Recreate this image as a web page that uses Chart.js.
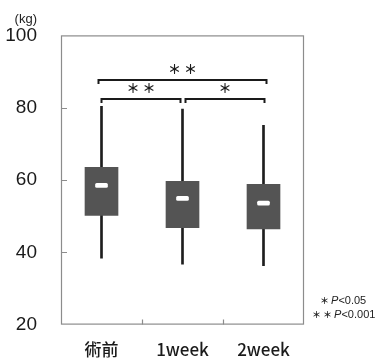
<!DOCTYPE html>
<html><head><meta charset="utf-8">
<script src="https://cdn.jsdelivr.net/npm/chart.js@4/dist/chart.umd.min.js"></script>
<style>html,body{margin:0;padding:0;background:#fff}#wrap{width:388px;height:360px}</style>
</head><body><div id="wrap"><canvas id="c" width="388" height="360"></canvas></div>
<script>
const categories = ['術前', '1week', '2week'];
const whiskerLow = [38.4, 36.7, 36.3];
const q1 = [50.2, 46.8, 46.5];
const medians = [58.5, 54.9, 53.6];
const q3 = [63.5, 59.6, 58.8];
const whiskerHigh = [80.4, 79.6, 75.1];
const yMin = 20, yMax = 100, yStep = 20;
const yUnit = '(kg)';
const bracketFrom = [0, 0, 1];
const bracketTo = [2, 1, 2];
const bracketLevel = [87.7, 82.5, 82.5];
const bracketMarks = ['＊ ＊', '＊ ＊', '＊'];
const noteMarks = ['＊ ', '＊ ＊ '];
const notePrefix = ['P', 'P'];
const noteValues = ['<0.05', '<0.001'];

const FONT = '"Liberation Sans", Arial, "Noto Sans CJK JP", sans-serif';
const CJK = '"Noto Sans CJK JP", "Liberation Sans", sans-serif';

const decor = {
  id: 'decor',
  afterDatasetsDraw(chart) {
    const ctx = chart.ctx, a = chart.chartArea;
    const xs = chart.scales.x, ys = chart.scales.y;
    ctx.save();
    // frame
    ctx.strokeStyle = '#8c8c8c'; ctx.lineWidth = 1.2;
    ctx.strokeRect(a.left + 0.5, a.top + 0.5, a.right - a.left - 1, a.bottom - a.top - 1);
    // inward y ticks
    ctx.beginPath();
    for (let v = yMin + yStep; v < yMax; v += yStep) {
      const y = Math.round(ys.getPixelForValue(v)) + 0.5;
      ctx.moveTo(a.left, y); ctx.lineTo(a.left + 6, y);
    }
    // x ticks between categories
    for (let i = 0; i < categories.length - 1; i++) {
      const x = Math.round((xs.getPixelForValue(i) + xs.getPixelForValue(i + 1)) / 2) + 0.5;
      ctx.moveTo(x, a.bottom); ctx.lineTo(x, a.bottom - 5);
    }
    ctx.stroke();
    // brackets
    ctx.strokeStyle = '#1a1a1a'; ctx.lineWidth = 2; ctx.fillStyle = '#1a1a1a';
    const last = categories.length - 1;
    for (let k = 0; k < bracketFrom.length; k++) {
      const span = bracketTo[k] - bracketFrom[k];
      let x1 = xs.getPixelForValue(bracketFrom[k]);
      let x2 = xs.getPixelForValue(bracketTo[k]);
      if (span > 1) { x1 -= 3; x2 += 3; }
      else { if (bracketFrom[k] > 0) x1 += 3; if (bracketTo[k] < last) x2 -= 2; else x2 += 1; }
      const y = Math.round(ys.getPixelForValue(bracketLevel[k]));
      ctx.beginPath();
      ctx.moveTo(x1, y + 4); ctx.lineTo(x1, y); ctx.lineTo(x2, y); ctx.lineTo(x2, y + 4);
      ctx.stroke();
      ctx.font = 'bold 13px ' + CJK;
      ctx.textAlign = 'center'; ctx.textBaseline = 'middle';
      ctx.fillText(bracketMarks[k], (x1 + x2) / 2, y - 11);
    }
    // unit label
    ctx.fillStyle = '#222';
    ctx.font = '13px ' + FONT;
    ctx.textAlign = 'right'; ctx.textBaseline = 'middle';
    ctx.fillText(yUnit, a.left - 24, a.top - 16);
    // note
    ctx.textAlign = 'left';
    const noteX = [320, 312];
    for (let i = 0; i < noteMarks.length; i++) {
      const y = a.bottom - 24 + i * 14;
      let x = noteX[i];
      ctx.font = 'bold 9px ' + CJK;
      ctx.fillText(noteMarks[i], x, y); x += ctx.measureText(noteMarks[i]).width;
      ctx.font = 'italic 11px ' + FONT;
      ctx.fillText(notePrefix[i], x, y); x += ctx.measureText(notePrefix[i]).width;
      ctx.font = '11px ' + FONT;
      ctx.fillText(noteValues[i], x, y);
    }
    ctx.restore();
  }
};

new Chart(document.getElementById('c'), {
  type: 'bar',
  data: {
    labels: categories,
    datasets: [
      { label: 'median', data: medians.map(m => [m - 0.55, m + 0.55]), backgroundColor: '#ffffff',
        barThickness: 12, grouped: false, borderRadius: 1.5, borderSkipped: false, order: 0 },
      { label: 'box', data: q1.map((v, i) => [v, q3[i]]), backgroundColor: '#545454',
        barThickness: 33, grouped: false, order: 1 },
      { label: 'whisker', data: whiskerLow.map((v, i) => [v, whiskerHigh[i]]), backgroundColor: '#1e1e1e',
        barThickness: 2, grouped: false, order: 2 }
    ]
  },
  options: {
    responsive: false, animation: false,
    layout: { padding: { top: 35, right: 84, left: 0, bottom: 0 } },
    plugins: { legend: { display: false }, tooltip: { enabled: false } },
    scales: {
      x: {
        grid: { display: false, drawTicks: false }, border: { display: false },
        ticks: { color: '#1a1a1a', font: { size: 17, family: CJK, weight: '500' }, padding: 15, maxRotation: 0 },
        afterFit(s) { s.height = 33; }
      },
      y: {
        min: yMin, max: yMax,
        grid: { display: false, drawTicks: false }, border: { display: false },
        ticks: { stepSize: yStep, color: '#1a1a1a', font: { size: 19, family: FONT }, padding: 24 },
        afterFit(s) { s.width = 61; }
      }
    }
  },
  plugins: [decor]
});
</script></body></html>
